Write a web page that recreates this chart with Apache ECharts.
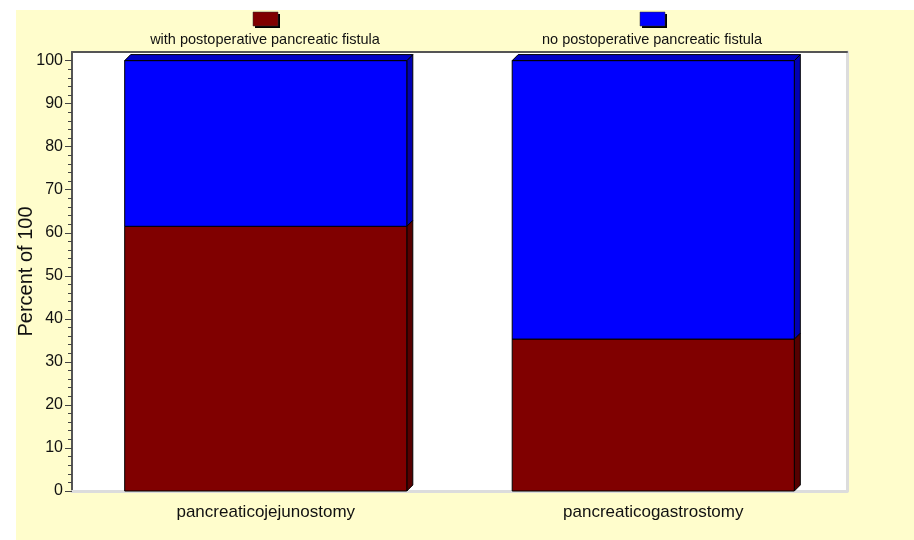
<!DOCTYPE html>
<html>
<head>
<meta charset="utf-8">
<script src="https://cdn.jsdelivr.net/npm/echarts@6/dist/echarts.min.js"></script>
<style>
  html, body { margin: 0; padding: 0; background: #ffffff; }
  #panel { position: absolute; left: 16px; top: 10px; width: 898px; height: 530px; background: #FFFDCC; }
  #chart { position: absolute; left: 0; top: 0; width: 914px; height: 540px; }
</style>
</head>
<body>
<div id="panel"></div>
<div id="chart"></div>
<script>
// Procedure groups along the x axis
const categories = ['pancreaticojejunostomy', 'pancreaticogastrostomy'];
// Share of patients (percent of 100) in each outcome group
const withFistula = [61.5, 35.3];
const noFistula = [38.5, 64.7];
const seriesNames = ['with postoperative pancreatic fistula', 'no postoperative pancreatic fistula'];
// Y axis tick labels
const yMajorTicks = [0, 10, 20, 30, 40, 50, 60, 70, 80, 90, 100];
const yMinorTicks = [];
for (let v = 2; v < 100; v += 2) if (v % 10 !== 0) yMinorTicks.push(v);

const FONT = '"Liberation Sans", Arial, sans-serif';
const DEPTH = 6;
const faceColors = [
  { front: '#800000', side: '#560000', top: '#640000' },
  { front: '#0000FF', side: '#0000B4', top: '#0000C8' }
];

// Stacked segments: [categoryIndex, lower, upper, isTopSegment]
const segLower = withFistula.map((v, i) => [i, 0, v, 0]);
const segUpper = noFistula.map((v, i) => [i, withFistula[i], withFistula[i] + v, 1]);

function makeRenderer(colors) {
  return function (params, api) {
    const cat = api.value(0);
    const lo = api.value(1);
    const hi = api.value(2);
    const isTop = api.value(3);
    const band = api.size([1, 0])[0];
    const w = band * 0.728;
    const pLo = api.coord([cat, lo]);
    const pHi = api.coord([cat, hi]);
    const x0 = pLo[0] - w / 2;
    const x1 = pLo[0] + w / 2;
    const yb = pLo[1];
    const yt = pHi[1];
    const children = [
      {
        type: 'polygon',
        shape: { points: [[x1, yt], [x1 + DEPTH, yt - DEPTH], [x1 + DEPTH, yb - DEPTH], [x1, yb]] },
        style: { fill: colors.side, stroke: '#000', lineWidth: 1 }
      },
      {
        type: 'rect',
        shape: { x: x0, y: yt, width: w, height: yb - yt },
        style: { fill: colors.front, stroke: '#000', lineWidth: 1 }
      }
    ];
    if (isTop) {
      children.push({
        type: 'polygon',
        shape: { points: [[x0, yt], [x0 + DEPTH, yt - DEPTH], [x1 + DEPTH, yt - DEPTH], [x1, yt]] },
        style: { fill: colors.top, stroke: '#000', lineWidth: 1 }
      });
    }
    return { type: 'group', children: children };
  };
}

// Legend: swatch above its caption, one over each column
const legendCenters = [265, 652];
const legendGraphics = [];
seriesNames.forEach((name, i) => {
  const cx = legendCenters[i];
  legendGraphics.push({
    type: 'rect', silent: true,
    shape: { x: cx - 10, y: 14, width: 25, height: 14 },
    style: { fill: '#000' }
  });
  legendGraphics.push({
    type: 'rect', silent: true,
    shape: { x: cx - 12, y: 12, width: 25, height: 14 },
    style: { fill: faceColors[i].front, stroke: '#333', lineWidth: 0.5 }
  });
  legendGraphics.push({
    type: 'text', silent: true,
    x: cx, y: 40,
    style: {
      text: name, fill: '#111', font: '14.5px ' + FONT,
      textAlign: 'center', textVerticalAlign: 'middle'
    }
  });
});

const chart = echarts.init(document.getElementById('chart'), null, { renderer: 'canvas' });
chart.setOption({
  backgroundColor: 'transparent',
  animation: false,
  grid: {
    left: 72, right: 67, top: 52, bottom: 49, containLabel: false, outerBoundsMode: 'none',
    show: true, backgroundColor: '#ffffff', borderWidth: 0
  },
  xAxis: [
    {
      type: 'category', data: categories, position: 'bottom',
      axisLine: { onZero: false, lineStyle: { color: '#DCDCDC', width: 3 } },
      axisTick: { alignWithLabel: true, length: 9, lineStyle: { color: '#333', width: 1 } },
      axisLabel: { color: '#111', fontFamily: FONT, fontSize: 17, margin: 13 },
      splitLine: { show: false }
    },
    {
      type: 'category', data: categories, position: 'top',
      axisLine: { onZero: false, lineStyle: { color: '#555', width: 2 } },
      axisTick: { show: false }, axisLabel: { show: false }
    }
  ],
  yAxis: [
    {
      type: 'value', min: 0, max: 102, interval: 10, position: 'left',
      name: 'Percent of 100', nameLocation: 'middle', nameGap: 36, nameMoveOverlap: false,
      nameTextStyle: { color: '#111', fontFamily: FONT, fontSize: 20 },
      axisLine: { onZero: false, show: true, lineStyle: { color: '#555', width: 2 } },
      axisTick: { show: true, length: 7, customValues: yMajorTicks, lineStyle: { color: '#444' } },
      axisLabel: { customValues: yMajorTicks, color: '#111', fontFamily: FONT, fontSize: 16, margin: 9 },
      splitLine: { show: false }
    },
    {
      type: 'value', min: 0, max: 102, position: 'left',
      axisLine: { onZero: false, show: false },
      axisTick: { show: true, length: 4, customValues: yMinorTicks, lineStyle: { color: '#444' } },
      axisLabel: { show: false },
      splitLine: { show: false }
    },
    {
      type: 'value', min: 0, max: 102, position: 'right',
      axisLine: { onZero: false, show: true, lineStyle: { color: '#DCDCDC', width: 3 } },
      axisTick: { show: false }, axisLabel: { show: false }, splitLine: { show: false }
    }
  ],
  series: [
    {
      name: seriesNames[0], type: 'custom', xAxisIndex: 0, yAxisIndex: 0,
      renderItem: makeRenderer(faceColors[0]), data: segLower,
      encode: { x: 0, y: [1, 2] }, z: 2
    },
    {
      name: seriesNames[1], type: 'custom', xAxisIndex: 0, yAxisIndex: 0,
      renderItem: makeRenderer(faceColors[1]), data: segUpper,
      encode: { x: 0, y: [1, 2] }, z: 3
    }
  ],
  graphic: legendGraphics
});
</script>
</body>
</html>
